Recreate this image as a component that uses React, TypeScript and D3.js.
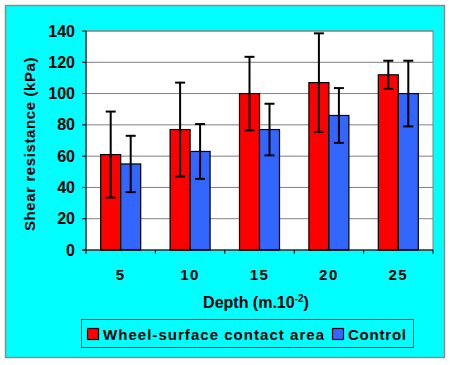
import React from "react";
import * as d3 from "d3";

const depths = ["5", "10", "15", "20", "25"];
const seriesNames = ["Wheel-surface contact area", "Control"];
const wheelValues = [61, 77, 100, 107, 112];
const wheelErrors = [27.5, 30, 23.5, 31.5, 9];
const controlValues = [55, 63, 77, 86, 100];
const controlErrors = [18, 17.5, 16.5, 17.5, 21];
const yTicks = [0, 20, 40, 60, 80, 100, 120, 140];

const colors = ["#FF0000", "#3366FF"];
const font = "'Liberation Sans', Arial, sans-serif";

const App = () => {
  const width = 450;
  const height = 365;
  const plot = { left: 86, right: 433, top: 31, bottom: 250 };

  const x = d3.scaleBand().domain(depths).range([plot.left, plot.right]);
  const y = d3.scaleLinear().domain([0, 140]).range([plot.bottom, plot.top]);
  const barW = 20;

  const series = [
    { values: wheelValues, errors: wheelErrors },
    { values: controlValues, errors: controlErrors },
  ];

  return (
    <svg
      width={width}
      height={height}
      style={{ position: "absolute", left: 0, top: 0 }}
      fontFamily={font}
      fontWeight="bold"
    >
      <rect x={0} y={0} width={width} height={height} fill="#fff" />
      <rect x={5.5} y={5.5} width={439} height={352} fill="#00FFFF" stroke="#8c8c8c" strokeWidth={1.5} />
      <rect
        x={plot.left}
        y={plot.top}
        width={plot.right - plot.left}
        height={plot.bottom - plot.top}
        fill="#fff"
        stroke="#808080"
        strokeWidth={1}
      />
      {/* gridlines */}
      {yTicks.slice(1).map((t) => (
        <line key={t} x1={plot.left} x2={plot.right} y1={y(t)} y2={y(t)} stroke="#808080" strokeWidth={1} />
      ))}
      {/* bars */}
      {series.map((s, si) =>
        depths.map((d, i) => {
          const cx = (x(d) as number) + x.bandwidth() / 2;
          const bx = cx - barW + si * barW;
          return (
            <rect
              key={`${si}-${i}`}
              x={bx}
              y={y(s.values[i])}
              width={barW}
              height={plot.bottom - y(s.values[i])}
              fill={colors[si]}
              stroke="#000"
              strokeWidth={1.2}
            />
          );
        })
      )}
      {/* error bars */}
      {series.map((s, si) =>
        depths.map((d, i) => {
          const cx = (x(d) as number) + x.bandwidth() / 2 - barW / 2 + si * barW;
          const hi = y(s.values[i] + s.errors[i]);
          const lo = y(s.values[i] - s.errors[i]);
          return (
            <g key={`e-${si}-${i}`} stroke="#000" strokeWidth={2}>
              <line x1={cx} x2={cx} y1={hi} y2={lo} />
              <line x1={cx - 5} x2={cx + 5} y1={hi} y2={hi} />
              <line x1={cx - 5} x2={cx + 5} y1={lo} y2={lo} />
            </g>
          );
        })
      )}
      {/* axes */}
      <line x1={plot.left} x2={plot.left} y1={plot.top} y2={plot.bottom} stroke="#000" strokeWidth={1} />
      <line x1={plot.left - 4} x2={plot.right} y1={plot.bottom} y2={plot.bottom} stroke="#000" strokeWidth={1} />
      {yTicks.map((t) => (
        <g key={`yt-${t}`}>
          <line x1={plot.left - 4} x2={plot.left} y1={y(t)} y2={y(t)} stroke="#000" />
          <text x={75} y={y(t) + 5.5} textAnchor="end" fontSize={16}>
            {t}
          </text>
        </g>
      ))}
      {depths.map((d, i) => (
        <line
          key={`xt-${i}`}
          x1={x(d) as number}
          x2={x(d) as number}
          y1={plot.bottom}
          y2={plot.bottom + 4}
          stroke="#000"
        />
      ))}
      <line x1={plot.right} x2={plot.right} y1={plot.bottom} y2={plot.bottom + 4} stroke="#000" />
      {depths.map((d) => (
        <text
          key={`xl-${d}`}
          x={(x(d) as number) + x.bandwidth() / 2}
          y={280}
          textAnchor="middle"
          fontSize={15}
          letterSpacing={1.5}
        >
          {d}
        </text>
      ))}
      <text x={256} y={308} textAnchor="middle" fontSize={16}>
        Depth (m.10
        <tspan dy={-6} fontSize={10}>-2</tspan>
        <tspan dy={6}>)</tspan>
      </text>
      <text
        transform={`translate(35, 144) rotate(-90)`}
        textAnchor="middle"
        fontSize={15}
        letterSpacing={0.6}
      >
        Shear resistance (kPa)
      </text>
      {/* legend */}
      <rect x={81.5} y={319.5} width={332} height={28} fill="#00FFFF" stroke="#333" strokeWidth={1} />
      <rect x={87.5} y={328.5} width={11} height={11} fill={colors[0]} stroke="#000" strokeWidth={1.2} />
      <text x={103} y={339.5} fontSize={15} textLength={221} lengthAdjust="spacing">
        {seriesNames[0]}
      </text>
      <rect x={332.5} y={328.5} width={11} height={11} fill={colors[1]} stroke="#000" strokeWidth={1.2} />
      <text x={348} y={339.5} fontSize={15} textLength={58} lengthAdjust="spacing">
        {seriesNames[1]}
      </text>
    </svg>
  );
};

export default App;
